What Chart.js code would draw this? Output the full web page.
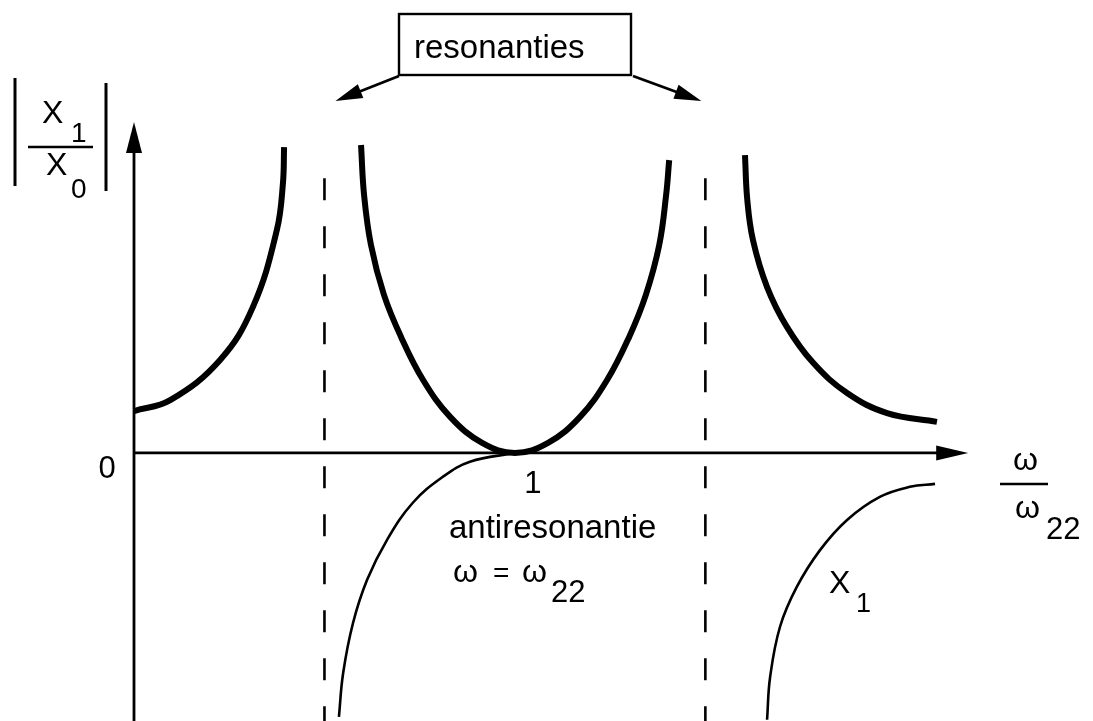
<!DOCTYPE html>
<html>
<head>
<meta charset="utf-8">
<script src="https://cdn.jsdelivr.net/npm/chart.js@4/dist/chart.umd.min.js"></script>
<style>
  html, body { margin: 0; padding: 0; background: #ffffff; }
  #wrap { width: 1093px; height: 721px; position: relative; }
</style>
</head>
<body>
<div id="wrap"><canvas id="c" width="1093" height="721"></canvas></div>
<script>
// Frequency ratio ω/ω22 and amplitude |X1/X0| for the three branches
const ampLowX  = [0.000, 0.095, 0.226, 0.312, 0.375, 0.391, 0.394];
const ampLowY  = [1.00, 1.26, 2.22, 3.48, 5.32, 6.44, 7.30];

const ampMidX  = [0.596, 0.604, 0.622, 0.656, 0.701, 0.759, 0.830, 0.914, 1.000,
                  1.087, 1.171, 1.242, 1.300, 1.344, 1.379, 1.397, 1.405];
const ampMidY  = [7.35, 6.16, 4.97, 3.78, 2.77, 1.74, 0.86, 0.24, 0.00,
                  0.24, 0.86, 1.74, 2.77, 3.78, 4.97, 6.16, 6.99];

const ampHighX = [1.604, 1.610, 1.625, 1.662, 1.714, 1.783, 1.872, 1.977, 2.108];
const ampHighY = [7.11, 6.05, 5.08, 3.96, 3.01, 2.15, 1.43, 0.95, 0.74];

// Signed response X1 where it is negative
const x1MidX   = [0.538, 0.549, 0.575, 0.612, 0.664, 0.732, 0.811, 0.882, 1.000];
const x1MidY   = [-6.30, -5.26, -4.06, -3.03, -2.08, -1.19, -0.57, -0.21, 0.00];

const x1HighX  = [1.662, 1.670, 1.696, 1.740, 1.801, 1.872, 1.958, 2.037, 2.103];
const x1HighY  = [-6.37, -5.35, -4.15, -3.20, -2.32, -1.60, -1.05, -0.81, -0.74];

// Resonance frequencies (dashed verticals) and their drawn extent
const resonances = [0.5, 1.5];
const resonanceTop = 6.56;

// Axis ranges
const xMin = 0, xMax = 2.2, yMin = -6.4, yMax = 7.9;
const xArrowEnd = 2.19;

// Tick labels on the axes
const xTickLabel = '1';
const yTickLabel = '0';

const pts = (xs, ys) => xs.map((x, i) => ({ x, y: ys[i] }));

const FONT = '"Liberation Sans", Arial, Helvetica, sans-serif';

function thick(xs, ys) {
  return { data: pts(xs, ys), borderColor: '#000', borderWidth: 6, pointRadius: 0,
           tension: 0.4, borderCapStyle: 'butt', borderJoinStyle: 'round', fill: false };
}
function thin(xs, ys) {
  return { data: pts(xs, ys), borderColor: '#000', borderWidth: 2.6, pointRadius: 0,
           tension: 0.4, borderJoinStyle: 'round', fill: false };
}

const datasets = [
  thick(ampLowX, ampLowY),
  thick(ampMidX, ampMidY),
  thick(ampHighX, ampHighY),
  thin(x1MidX, x1MidY),
  thin(x1HighX, x1HighY),
  ...resonances.map(r => ({
    data: [{ x: r, y: resonanceTop }, { x: r, y: yMin }],
    borderColor: '#000', borderWidth: 2.6, borderDash: [22, 26], pointRadius: 0, fill: false, tension: 0
  }))
];

function arrowHead(ctx, fx, fy, tx, ty, len, half) {
  const a = Math.atan2(ty - fy, tx - fx);
  const bx = tx - len * Math.cos(a), by = ty - len * Math.sin(a);
  ctx.beginPath();
  ctx.moveTo(tx, ty);
  ctx.lineTo(bx + half * Math.sin(a), by - half * Math.cos(a));
  ctx.lineTo(bx - half * Math.sin(a), by + half * Math.cos(a));
  ctx.closePath();
  ctx.fill();
}

function text(ctx, s, x, y, size, align) {
  ctx.font = size + 'px ' + FONT;
  ctx.textAlign = align || 'left';
  ctx.textBaseline = 'alphabetic';
  ctx.fillText(s, x, y);
}

// Axes with arrowheads under the curves, labels and callout on top
const axesPlugin = {
  id: 'axesArrows',
  beforeDatasetsDraw(chart) {
    const { ctx, scales: { x, y } } = chart;
    const x0 = x.getPixelForValue(0), y0 = y.getPixelForValue(0);
    ctx.save();
    ctx.strokeStyle = '#000'; ctx.fillStyle = '#000'; ctx.lineWidth = 2.8;
    // vertical axis
    const yTop = y.getPixelForValue(yMax);
    ctx.beginPath(); ctx.moveTo(x0, chart.height); ctx.lineTo(x0, yTop + 28); ctx.stroke();
    arrowHead(ctx, x0, chart.height, x0, yTop, 31, 8);
    // horizontal axis
    const xEnd = x.getPixelForValue(xArrowEnd);
    ctx.beginPath(); ctx.moveTo(x0, y0); ctx.lineTo(xEnd - 28, y0); ctx.stroke();
    arrowHead(ctx, x0, y0, xEnd, y0, 32, 7.5);
    ctx.restore();
  },
  afterDatasetsDraw(chart) {
    const { ctx, scales: { x, y } } = chart;
    const y0 = y.getPixelForValue(0);
    ctx.save();
    ctx.fillStyle = '#000'; ctx.strokeStyle = '#000';

    // tick labels
    text(ctx, yTickLabel, 107, y0 + 25, 31, 'center');
    text(ctx, xTickLabel, x.getPixelForValue(1) + 18, y0 + 40, 31, 'center');

    // y-axis title |X1 / X0|
    ctx.lineWidth = 3;
    ctx.beginPath(); ctx.moveTo(15, 78); ctx.lineTo(15, 186); ctx.stroke();
    ctx.beginPath(); ctx.moveTo(106, 83); ctx.lineTo(106, 191); ctx.stroke();
    ctx.lineWidth = 2.5;
    ctx.beginPath(); ctx.moveTo(28, 147); ctx.lineTo(93, 147); ctx.stroke();
    text(ctx, 'X', 42, 123, 32);
    text(ctx, '1', 71, 142, 28);
    text(ctx, 'X', 46, 175, 32);
    text(ctx, '0', 71, 198, 28);

    // x-axis title ω / ω22
    ctx.lineWidth = 2.5;
    ctx.beginPath(); ctx.moveTo(1000, 484); ctx.lineTo(1048, 484); ctx.stroke();
    text(ctx, 'ω', 1013, 470, 32);
    text(ctx, 'ω', 1015, 518, 32);
    text(ctx, '22', 1046, 539, 31);

    // antiresonance note
    text(ctx, 'antiresonantie', 449, 538, 33);
    text(ctx, 'ω', 453, 582, 32);
    text(ctx, '=', 493, 582, 28);
    text(ctx, 'ω', 522, 582, 32);
    text(ctx, '22', 551, 602, 31);

    // label of the signed response
    text(ctx, 'X', 829, 593, 32);
    text(ctx, '1', 856, 612, 27);

    // resonance callout box with arrows
    ctx.lineWidth = 2.4;
    ctx.strokeRect(399, 14, 232, 61);
    text(ctx, 'resonanties', 414, 58, 33);
    ctx.lineWidth = 2.8;
    const l = { fx: 399, fy: 76, tx: x.getPixelForValue(resonances[0]) + 11, ty: 101 };
    const r = { fx: 633, fy: 76, tx: x.getPixelForValue(resonances[1]) - 4, ty: 101 };
    [l, r].forEach(a => {
      const ang = Math.atan2(a.ty - a.fy, a.tx - a.fx);
      ctx.beginPath(); ctx.moveTo(a.fx, a.fy);
      ctx.lineTo(a.tx - 22 * Math.cos(ang), a.ty - 22 * Math.sin(ang)); ctx.stroke();
      arrowHead(ctx, a.fx, a.fy, a.tx, a.ty, 27, 7.5);
    });
    ctx.restore();
  }
};

new Chart(document.getElementById('c'), {
  type: 'line',
  data: { datasets },
  options: {
    responsive: false,
    animation: false,
    events: [],
    layout: { padding: { left: 134, right: 121, top: 122, bottom: 0 } },
    plugins: { legend: { display: false }, tooltip: { enabled: false } },
    scales: {
      x: { type: 'linear', min: xMin, max: xMax, display: false },
      y: { type: 'linear', min: yMin, max: yMax, display: false }
    }
  },
  plugins: [axesPlugin]
});
</script>
</body>
</html>
